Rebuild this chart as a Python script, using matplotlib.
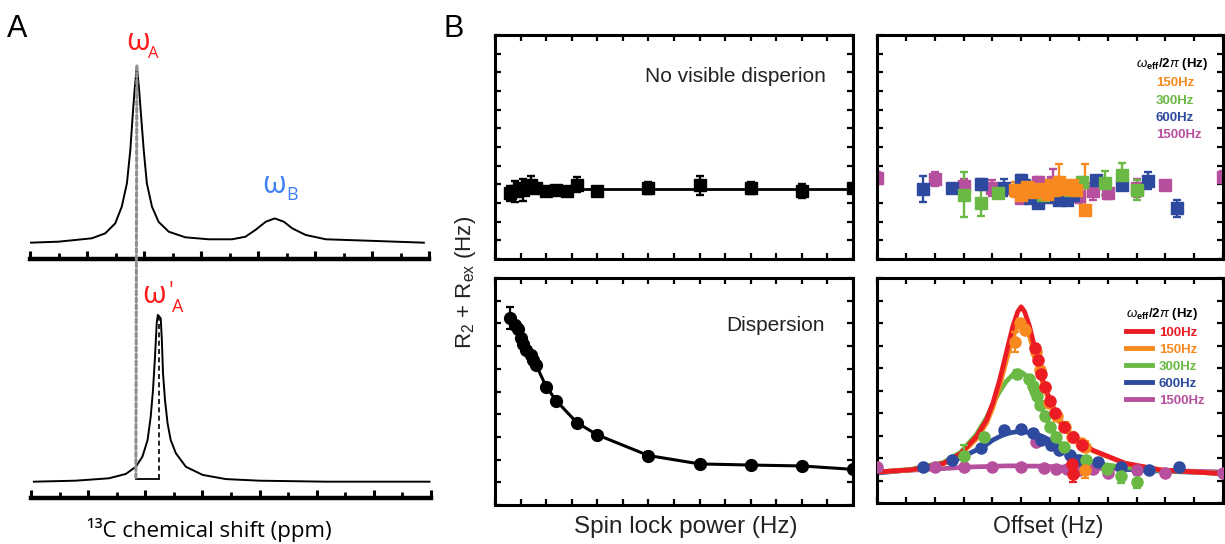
import matplotlib
matplotlib.use("Agg")
import matplotlib.pyplot as plt
from matplotlib.patches import ConnectionPatch
from matplotlib.lines import Line2D
from matplotlib.ticker import MultipleLocator
from matplotlib import font_manager

W, H, DPI = 1225, 544, 100

# ---------------- Panel A : 13C spectra (shift in arbitrary units, normalised intensity) ----
shift_top = [0.0, 1.0, 2.17, 2.64, 2.99, 3.22, 3.40, 3.52, 3.60, 3.67, 3.75, 3.83, 3.90,
             3.99, 4.10, 4.28, 4.51, 4.87, 5.45, 6.27, 7.09, 7.56, 7.91, 8.27, 8.59, 8.91,
             9.20, 9.67, 10.38, 11.85, 13.82]
inten_top = [0.082, 0.087, 0.104, 0.129, 0.179, 0.263, 0.380, 0.548, 0.715, 0.849, 0.970,
             0.849, 0.715, 0.548, 0.380, 0.263, 0.187, 0.137, 0.109, 0.099, 0.099, 0.112,
             0.146, 0.187, 0.204, 0.187, 0.154, 0.121, 0.099, 0.092, 0.082]
shift_bot = [0.1, 1.56, 2.73, 3.32, 3.67, 3.90, 4.08, 4.19, 4.27, 4.34, 4.40, 4.44, 4.54,
             4.58, 4.62, 4.69, 4.78, 4.89, 5.07, 5.42, 6.01, 6.82, 7.99, 10.33, 13.95]
inten_bot = [0.082, 0.087, 0.099, 0.121, 0.157, 0.208, 0.291, 0.409, 0.543, 0.710, 0.878,
             0.920, 0.903, 0.794, 0.627, 0.492, 0.375, 0.291, 0.225, 0.157, 0.116, 0.095,
             0.087, 0.082, 0.082]
omega_A = 3.75          # major-state peak
omega_A_low = 3.67      # same position read on the lower spectrum
omega_A_prime = 4.49    # shifted peak
bracket_y = 0.093

# ---------------- Panel B : relaxation dispersion ------------------------------------------
# top-left: no visible dispersion
flat_power = [150, 200, 235, 270, 315, 350, 400, 500, 600, 700, 800, 1000, 1500, 2000, 2500, 3000, 3500]
flat_r = [7.06, 7.24, 7.6, 7.42, 7.77, 7.95, 7.6, 7.24, 7.35, 7.24, 7.95, 7.24, 7.6, 7.88, 7.6, 7.24, 7.6]
flat_err = [0.8, 1.1, 0.4, 1.2, 0.5, 0.9, 0.3, 0.3, 0.4, 0.4, 0.8, 0.3, 0.6, 1.0, 0.6, 0.75, 0.4]
flat_fit_power = [150, 3500]
flat_fit_r = [7.5, 7.5]

# bottom-left: dispersion
disp_power = [150, 200, 225, 250, 275, 300, 350, 375, 400, 500, 600, 800, 1000, 1500, 2000, 2500, 3000, 3500]
disp_r = [8.24, 7.94, 7.75, 7.35, 7.10, 6.84, 6.62, 6.40, 6.18, 5.22, 4.59, 3.63, 3.09, 2.18, 1.81, 1.76, 1.72, 1.57]
disp_err = [0.5, 0.15, 0.12, 0.12, 0.12, 0.12, 0.12, 0.12, 0.12, 0.15, 0.15, 0.15, 0.12, 0.15, 0.15, 0.15, 0.15, 0.12]

# top-right: off-resonance, no exchange
nf_1500_x = [-2500, -1500, -1000, -500, 0, 300, 400, 550, 750, 1000, 1250, 1500, 2000, 2500, 3500]
nf_1500_y = [8.7, 8.55, 7.8, 7.6, 6.5, 8.3, 7.55, 8.3, 6.5, 6.7, 7.25, 7.05, 7.6, 7.9, 8.8]
nf_1500_e = [0.6, 0.75, 0.8, 0.9, 0.5, 0.5, 0.5, 1.3, 0.5, 0.7, 0.9, 0.6, 1.0, 0.3, 0.6]
nf_600_x = [-1700, -1200, -700, -300, 0, 50, 150, 300, 450, 650, 800, 900, 1300, 1750, 2200, 2700]
nf_600_y = [7.5, 7.65, 8.05, 7.65, 8.45, 7.9, 6.55, 6.0, 6.65, 6.35, 6.3, 6.85, 8.5, 7.9, 8.4, 5.45]
nf_600_e = [1.4, 0.3, 0.5, 0.9, 0.5, 0.5, 0.5, 0.4, 0.5, 0.5, 0.4, 0.5, 0.4, 0.3, 0.9, 0.9]
nf_300_x = [-1000, -700, -400, 150, 375, 600, 850, 1050, 1450, 1750, 2000]
nf_300_y = [6.9, 6.0, 7.05, 7.4, 6.85, 7.75, 7.4, 8.3, 8.15, 9.0, 7.4]
nf_300_e = [2.4, 1.4, 0.5, 0.5, 0.5, 0.5, 0.5, 0.5, 1.25, 1.3, 1.1]
nf_150_x = [-100, 0, 100, 200, 300, 375, 450, 525, 575, 650, 725, 800, 875, 950, 1100]
nf_150_y = [7.4, 6.9, 7.75, 7.2, 7.55, 7.4, 7.0, 7.9, 7.4, 8.3, 7.75, 7.55, 7.9, 7.4, 5.25]
nf_150_elo = [0.8, 0.6, 0.5, 0.6, 0.5, 0.6, 0.5, 0.6, 0.5, 0.6, 0.5, 0.6, 0.5, 0.6, 0.2]
nf_150_ehi = [0.8, 0.6, 0.5, 0.6, 0.5, 0.6, 0.5, 0.6, 0.5, 1.9, 0.5, 0.6, 0.5, 0.6, 4.9]

# bottom-right: off-resonance with exchange (points)
ex_100_x = [240, 290, 345, 410, 500, 580, 750, 890, 895, 905, 1050]
ex_100_y = [6.9, 6.35, 5.75, 5.15, 4.55, 4.0, 3.4, 1.75, 2.95, 1.3, 2.6]
ex_100_e = [0.15, 0.15, 0.15, 0.15, 0.15, 0.15, 0.15, 0.2, 0.15, 0.35, 0.15]
ex_150_x = [-100, -20, 60, 250, 330, 410, 490, 620, 760, 880, 1040, 1100, 1110]
ex_150_y = [7.15, 8.0, 7.7, 6.7, 5.9, 5.15, 4.45, 3.85, 3.4, 2.95, 2.65, 2.5, 1.45]
ex_150_e = [0.45, 0.2, 0.2, 0.2, 0.2, 0.2, 0.2, 0.2, 0.2, 0.2, 0.2, 0.25, 0.35]
ex_300_x = [-1000, -650, -80, 130, 200, 235, 275, 335, 420, 500, 600, 740, 1130, 1480, 1730, 2000]
ex_300_y = [2.1, 2.95, 5.75, 5.5, 5.2, 5.0, 4.75, 4.35, 3.85, 3.4, 2.95, 2.5, 1.9, 1.5, 1.2, 0.95]
ex_300_e = [0.5, 0.15, 0.15, 0.15, 0.15, 0.15, 0.15, 0.15, 0.15, 0.15, 0.15, 0.15, 0.15, 0.15, 0.3, 0.3]
ex_600_x = [-1700, -1200, -700, -300, 0, 200, 350, 520, 660, 840, 1010, 1330, 1730, 2220, 2730]
ex_600_y = [1.62, 1.9, 2.43, 3.24, 3.27, 3.13, 2.8, 2.58, 2.36, 2.13, 1.91, 1.84, 1.62, 1.47, 1.62]
ex_1500_x = [-2500, -1500, -1000, -500, 0, 250, 400, 600, 800, 1000, 1250, 1500, 2000, 2500, 3500]
ex_1500_y = [1.6, 1.58, 1.62, 1.62, 1.62, 2.7, 1.55, 1.52, 1.5, 1.45, 1.5, 1.35, 1.45, 1.35, 1.35]

# bottom-right: fitted curves
fit_offset = [-2500, -1900, -1350, -1050, -775, -600, -490, -375, -260, -145, -60, 0, 60,
              145, 260, 375, 520, 665, 895, 1240, 1800, 2400, 3500]
fit_100 = [1.38, 1.48, 1.76, 2.2, 2.95, 3.7, 4.45, 5.45, 6.65, 7.85, 8.5, 8.72, 8.5,
           7.85, 6.65, 5.45, 4.43, 3.69, 2.95, 2.35, 1.77, 1.48, 1.30]
fit_150 = [1.37, 1.47, 1.74, 2.15, 2.85, 3.55, 4.25, 5.2, 6.3, 7.35, 7.9, 8.05, 7.9,
           7.4, 6.4, 5.3, 4.3, 3.6, 2.9, 2.32, 1.76, 1.47, 1.30]
fit_300 = [1.37, 1.5, 1.8, 2.25, 3.05, 3.8, 4.4, 4.95, 5.4, 5.7, 5.84, 5.82, 5.72,
           5.45, 4.85, 4.1, 3.3, 2.7, 2.15, 1.78, 1.58, 1.45, 1.32]
fit_600 = [1.33, 1.48, 1.76, 2.0, 2.36, 2.6, 2.8, 2.95, 3.08, 3.14, 3.17, 3.17, 3.16,
           3.13, 3.07, 2.95, 2.77, 2.47, 2.06, 1.76, 1.5, 1.42, 1.32]
fit_1500 = [1.38, 1.46, 1.53, 1.58, 1.61, 1.62, 1.63, 1.64, 1.65, 1.65, 1.65, 1.65, 1.65,
            1.64, 1.64, 1.63, 1.62, 1.6, 1.58, 1.55, 1.5, 1.45, 1.38]

field_labels = ["100Hz", "150Hz", "300Hz", "600Hz", "1500Hz"]

# ---------------- style -----------------------------------------------------------------
C_RED, C_ORA, C_GRN, C_BLU, C_MAG = "#ec1c24", "#f7891f", "#6ab944", "#2e4a9e", "#b6509e"
names = {f.name for f in font_manager.fontManager.ttflist}
NARROW = "Liberation Sans Narrow" in names
SANS = "Liberation Sans"
A_FONT = ["Open Sans", "DejaVu Sans"]

plt.rcParams["font.family"] = [SANS, "DejaVu Sans"]
plt.rcParams["mathtext.fontset"] = "custom"
plt.rcParams["mathtext.rm"] = SANS
plt.rcParams["mathtext.it"] = SANS + ":italic"
plt.rcParams["mathtext.bf"] = SANS + ":bold"

fig = plt.figure(figsize=(W / DPI, H / DPI), dpi=DPI)


def rect(l, t, r, b):
    return [l / W, 1 - b / H, (r - l) / W, (b - t) / H]


def fx(x):
    return x / W


def fy(y):
    return 1 - y / H


# ---------------- Panel A ---------------------------------------------------------------
def style_spec(ax):
    for k in ("top", "left", "right"):
        ax.spines[k].set_visible(False)
    ax.spines["bottom"].set_linewidth(3.2)
    ax.set_xlim(0, 14)
    ax.set_ylim(0, 1)
    ax.xaxis.set_major_locator(MultipleLocator(2))
    ax.xaxis.set_minor_locator(MultipleLocator(1))
    ax.set_yticks([])
    ax.tick_params(axis="x", which="major", direction="in", length=5.5, width=2.2, labelbottom=False)
    ax.tick_params(axis="x", which="minor", direction="in", length=4.0, width=2.0)
    ax.patch.set_alpha(0)


axA1 = fig.add_axes(rect(30, 60, 429, 259))
axA2 = fig.add_axes(rect(31, 299, 431, 498))
style_spec(axA1)
style_spec(axA2)
axA1.plot(shift_top, inten_top, color="black", lw=1.4, zorder=3)
axA2.plot(shift_bot, inten_bot, color="black", lw=1.4, zorder=3)

con = ConnectionPatch(xyA=(omega_A, max(inten_top)), coordsA=axA1.transData,
                      xyB=(omega_A_low, bracket_y + 0.002), coordsB=axA2.transData,
                      color="#8f8f8f", lw=2.2, linestyle=(0, (1.3, 1.0)), zorder=1)
fig.add_artist(con)
axA2.plot([omega_A_prime, omega_A_prime], [bracket_y, max(inten_bot) - 0.01], color="black",
          lw=1.2, linestyle=(0, (3, 2)), zorder=4)
axA2.plot([omega_A_low, omega_A_prime], [bracket_y, bracket_y], color="black", lw=1.3, zorder=4)

fig.text(fx(126), fy(50), "ω", color="#ff1a1a", family=A_FONT, size=22, ha="left", va="baseline")
fig.text(fx(148), fy(58), "A", color="#ff1a1a", family=A_FONT, size=12, ha="left", va="baseline")
fig.text(fx(262), fy(193), "ω", color="#3d7ff5", family=A_FONT, size=22, ha="left", va="baseline")
fig.text(fx(286), fy(200), "B", color="#3d7ff5", family=A_FONT, size=13, ha="left", va="baseline")
fig.text(fx(142), fy(303), "ω", color="#ff1a1a", family=A_FONT, size=22, ha="left", va="baseline")
fig.text(fx(168), fy(297), "'", color="#ff1a1a", family=A_FONT, size=16, ha="left", va="baseline")
fig.text(fx(172), fy(312), "A", color="#ff1a1a", family=A_FONT, size=13, ha="left", va="baseline")
fig.text(fx(209), fy(537), "¹³C chemical shift (ppm)", family=A_FONT, size=16, ha="center",
         va="baseline")

fig.text(fx(7), fy(37), "A", size=22, ha="left", va="baseline")
fig.text(fx(443), fy(37), "B", size=22, ha="left", va="baseline")


# ---------------- Panel B ---------------------------------------------------------------
def style_b(ax, xlim, ylim, xstep, ystep):
    ax.set_xlim(*xlim)
    ax.set_ylim(*ylim)
    for s in ax.spines.values():
        s.set_linewidth(2.2)
    ax.xaxis.set_major_locator(MultipleLocator(xstep))
    ax.yaxis.set_major_locator(MultipleLocator(ystep))
    ax.tick_params(which="both", direction="in", top=True, right=True, length=4, width=1.6,
                   labelbottom=False, labelleft=False)


axTL = fig.add_axes(rect(495, 35, 853, 259))
axBL = fig.add_axes(rect(495, 278, 853, 505))
axTR = fig.add_axes(rect(877, 35, 1223, 259))
axBR = fig.add_axes(rect(877, 278, 1223, 503))
style_b(axTL, (0, 3500), (0, 24), 250, 2)
style_b(axBL, (0, 3500), (0, 10), 250, 1)
style_b(axTR, (-2500, 3500), (0, 24), 500, 2)
style_b(axBR, (-2500, 3500), (0, 10), 500, 1)

eb = dict(capsize=3, elinewidth=1.7, capthick=1.7, ms=8, lw=0)

# top-left
axTL.plot(flat_fit_power, flat_fit_r, color="black", lw=2.0, zorder=2)
axTL.errorbar(flat_power, flat_r, yerr=flat_err, fmt="s", color="black", zorder=3, **eb)

# bottom-left
axBL.plot(disp_power, disp_r, color="black", lw=2.2, zorder=2)
axBL.errorbar(disp_power, disp_r, yerr=disp_err, fmt="o", color="black", zorder=3,
              capsize=3, elinewidth=1.6, capthick=1.6, ms=8.5, lw=0)

# top-right
axTR.errorbar(nf_1500_x, nf_1500_y, yerr=nf_1500_e, fmt="s", color=C_MAG, **eb)
axTR.errorbar(nf_600_x, nf_600_y, yerr=nf_600_e, fmt="s", color=C_BLU, **eb)
axTR.errorbar(nf_300_x, nf_300_y, yerr=nf_300_e, fmt="s", color=C_GRN, **eb)
axTR.errorbar(nf_150_x, nf_150_y, yerr=[nf_150_elo, nf_150_ehi], fmt="s", color=C_ORA, **eb)

# bottom-right curves then points
curves = [(fit_1500, C_MAG), (fit_600, C_BLU), (fit_300, C_GRN), (fit_150, C_ORA), (fit_100, C_RED)]
for ys, c in curves:
    axBR.plot(fit_offset, ys, color=c, lw=3.4, zorder=2, solid_capstyle="round",
              solid_joinstyle="round")
ebo = dict(capsize=3, elinewidth=1.6, capthick=1.6, ms=8, lw=0, zorder=3)
axBR.errorbar(ex_1500_x, ex_1500_y, yerr=0.1, fmt="o", color=C_MAG, **ebo)
axBR.errorbar(ex_600_x, ex_600_y, yerr=0.12, fmt="o", color=C_BLU, **ebo)
axBR.errorbar(ex_300_x, ex_300_y, yerr=ex_300_e, fmt="o", color=C_GRN, **ebo)
axBR.errorbar(ex_150_x, ex_150_y, yerr=ex_150_e, fmt="o", color=C_ORA, **ebo)
axBR.errorbar(ex_100_x, ex_100_y, yerr=ex_100_e, fmt="o", color=C_RED, **ebo)

# legends
title = r"$\omega_{\mathbf{eff}}$/2$\pi$ (Hz)"
lprop = dict(family=SANS, weight="bold", size=9.5)
h_bot = [Line2D([], [], color=c, lw=3.5) for c in (C_RED, C_ORA, C_GRN, C_BLU, C_MAG)]
legB = axBR.legend(h_bot, field_labels, loc="upper left", bbox_to_anchor=(fx(1126), fy(306)),
                   bbox_transform=fig.transFigure, frameon=False, title=title,
                   title_fontproperties=lprop, prop=lprop,
                   labelcolor=[C_RED, C_ORA, C_GRN, C_BLU, C_MAG], handlelength=1.95,
                   handletextpad=0.55, labelspacing=0.36, borderpad=0, borderaxespad=0,
                   alignment="left")
h_top = [Line2D([], [], linestyle="none") for _ in range(4)]
legT = axTR.legend(h_top, field_labels[1:], loc="upper left", bbox_to_anchor=(fx(1136), fy(56)),
                   bbox_transform=fig.transFigure, frameon=False, title=title,
                   title_fontproperties=lprop, prop=lprop,
                   labelcolor=[C_ORA, C_GRN, C_BLU, C_MAG], handlelength=1.5,
                   handletextpad=0.0, labelspacing=0.38, borderpad=0, borderaxespad=0,
                   alignment="left")

# in-panel annotations
if NARROW:
    ann = dict(family="Liberation Sans Narrow", size=18)
else:
    ann = dict(family=SANS, size=15)
fig.text(fx(735), fy(82), "No visible disperion", ha="center", va="baseline", color="#222222", **ann)
fig.text(fx(776), fy(331), "Dispersion", ha="center", va="baseline", color="#222222", **ann)

fig.text(fx(686), fy(527), "Spin lock power (Hz)", ha="center", va="center", size=17.5, color="#222222")
fig.text(fx(1048), fy(527), "Offset (Hz)", ha="center", va="center", size=16.5, color="#222222")
fig.text(fx(466), fy(282), r"R$_2$ + R$_{\mathrm{ex}}$ (Hz)", rotation=90, ha="center", va="center",
         size=16, color="#222222")

fig.savefig("out.png", dpi=DPI)
